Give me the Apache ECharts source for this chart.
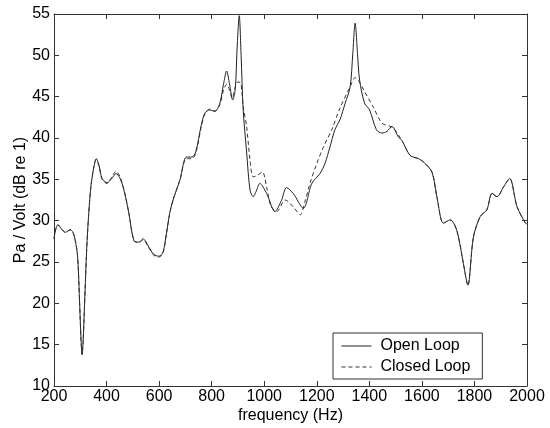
<!DOCTYPE html>
<html>
<head>
<meta charset="utf-8">
<script src="https://cdn.jsdelivr.net/npm/echarts@6/dist/echarts.min.js"></script>
<style>html,body{margin:0;padding:0;background:#fff}#c{width:550px;height:428px}</style>
</head>
<body>
<div id="c"></div>
<script>
const xTicks = [200, 400, 600, 800, 1000, 1200, 1400, 1600, 1800, 2000];
const yTicks = [10, 15, 20, 25, 30, 35, 40, 45, 50, 55];
const seriesNames = ["Open Loop", "Closed Loop"];

const openFreq = [200,207,215,228,243,262,272,281,290,298,303,307,311,316,326,339,350,361,372,383,402,420,436,450,466,485,504,523,539,561,580,600,615,628,641,653,679,704,725,740,760,774,793,812,831,845,857,868,880,890,897,905,912,920,933,946,958,970,983,1009,1041,1065,1085,1110,1149,1181,1212,1231,1250,1269,1288,1308,1327,1337,1346,1355,1363,1382,1401,1427,1448,1467,1486,1511,1524,1555,1587,1606,1638,1657,1682,1708,1733,1758,1775,1796,1822,1847,1867,1886,1911,1934,1962,1994,2000];
const openDb = [27.8,29.0,29.5,29.0,28.6,28.9,28.6,27.6,25.6,19.6,15.5,13.8,15.5,19.6,27.6,33.7,36.2,37.5,36.6,35.1,34.6,35.1,35.7,35.2,33.7,30.9,27.6,27.4,27.8,26.8,25.9,25.7,26.2,28.5,31.0,32.5,34.9,37.7,37.7,38.4,41.5,43.0,43.4,43.2,44.2,46.5,48.1,46.5,44.6,46.0,51.0,54.8,50.0,43.4,38.3,33.7,32.9,33.6,34.5,33.3,31.1,32.4,34.0,33.3,31.5,34.5,35.7,36.9,38.9,41.0,42.2,44.2,46.2,50.2,53.9,50.2,47.0,44.2,43.4,41.0,40.6,40.8,41.4,40.1,39.7,37.9,37.5,37.1,35.9,32.9,29.7,30.1,28.8,24.8,22.2,28.0,30.5,31.3,33.3,32.9,34.1,35.1,31.7,29.7,29.6];

const closedFreq = [200,207,215,228,243,262,272,281,290,298,303,307,311,316,326,339,350,361,372,383,402,420,436,450,466,485,504,523,539,561,580,600,615,628,641,653,679,704,725,740,760,774,793,812,831,845,857,868,878,890,900,911,920,933,946,958,975,993,1009,1025,1048,1079,1092,1115,1137,1155,1174,1200,1225,1257,1288,1327,1346,1358,1382,1414,1448,1480,1492,1524,1555,1587,1606,1638,1657,1682,1708,1733,1758,1775,1796,1822,1847,1867,1886,1911,1934,1962,1994,2000];
const closedDb = [27.8,29.0,29.5,29.0,28.6,28.9,28.6,27.6,25.6,19.6,15.5,13.8,15.5,19.6,27.6,33.7,36.2,37.4,36.5,35.0,34.5,35.3,36.0,35.4,33.8,30.9,27.6,27.3,27.7,26.7,25.8,25.6,26.1,28.4,31.0,32.5,34.9,37.5,37.5,38.2,41.3,42.9,43.5,43.3,44.0,45.8,46.5,45.8,44.8,46.2,46.8,46.6,43.8,41.4,37.3,35.3,35.5,35.9,34.1,31.8,31.1,32.5,32.3,31.5,30.7,32.3,34.5,36.9,38.9,41.0,43.6,46.2,47.3,47.0,45.6,43.8,41.8,41.4,41.2,39.7,37.9,37.5,37.1,35.9,32.9,29.7,30.1,28.8,24.8,22.2,28.0,30.5,31.3,33.3,32.9,34.1,35.1,31.7,29.7,29.6];

const pair = (xs, ys) => xs.map((x, i) => [x, ys[i]]);
const FONT = '"Liberation Sans", Arial, Helvetica, sans-serif';
const axisCommon = {
  axisLine: { lineStyle: { color: '#333', width: 1 } },
  axisTick: { inside: true, length: 5, lineStyle: { color: '#333' } },
  splitLine: { show: false }
};
const chart = echarts.init(document.getElementById('c'), null, { renderer: 'canvas' });
chart.setOption({
  animation: false,
  backgroundColor: '#fff',
  grid: { left: 54, right: 23, top: 14, bottom: 42, show: false, containLabel: false, outerBoundsMode: 'none' },
  legend: {
    data: seriesNames,
    orient: 'vertical',
    left: 333, top: 333,
    backgroundColor: '#fff',
    borderColor: '#333', borderWidth: 1,
    padding: [5, 12, 4, 8],
    itemWidth: 30, itemHeight: 14, itemGap: 5,
    itemStyle: { opacity: 0 },
    lineStyle: { width: 1 },
    textStyle: { fontFamily: FONT, fontSize: 16, color: '#000', padding: [0, 0, 0, 4] }
  },
  xAxis: [
    Object.assign({}, axisCommon, {
      type: 'value', min: xTicks[0], max: xTicks[xTicks.length - 1], interval: 200,
      position: 'bottom',
      name: 'frequency (Hz)', nameLocation: 'middle', nameGap: 30, nameMoveOverlap: false,
      nameTextStyle: { fontFamily: FONT, fontSize: 16, color: '#000', verticalAlign: 'middle' },
      axisLabel: { margin: 3, fontFamily: FONT, fontSize: 16, color: '#000', formatter: v => String(v) }
    }),
    Object.assign({}, axisCommon, {
      type: 'value', min: xTicks[0], max: xTicks[xTicks.length - 1], interval: 200,
      position: 'top', axisLabel: { show: false }
    })
  ],
  yAxis: [
    Object.assign({}, axisCommon, {
      type: 'value', min: yTicks[0], max: yTicks[yTicks.length - 1], interval: 5,
      position: 'left',
      name: 'Pa / Volt (dB re 1)', nameLocation: 'middle', nameGap: 33, nameMoveOverlap: false,
      nameTextStyle: { fontFamily: FONT, fontSize: 16, color: '#000', verticalAlign: 'middle' },
      axisLabel: { margin: 4, fontFamily: FONT, fontSize: 16, color: '#000', formatter: v => String(v) }
    }),
    Object.assign({}, axisCommon, {
      type: 'value', min: yTicks[0], max: yTicks[yTicks.length - 1], interval: 5,
      position: 'right', axisLabel: { show: false }
    })
  ],
  series: [
    {
      name: seriesNames[0], type: 'line', xAxisIndex: 0, yAxisIndex: 0,
      data: pair(openFreq, openDb), smooth: 0.3, symbol: 'none',
      lineStyle: { color: '#222', width: 1, type: 'solid' }, itemStyle: { color: '#222' }
    },
    {
      name: seriesNames[1], type: 'line', xAxisIndex: 0, yAxisIndex: 0,
      data: pair(closedFreq, closedDb), smooth: 0.3, symbol: 'none',
      lineStyle: { color: '#333', width: 1, type: [4, 3] }, itemStyle: { color: '#333' }
    }
  ]
});
</script>
</body>
</html>
